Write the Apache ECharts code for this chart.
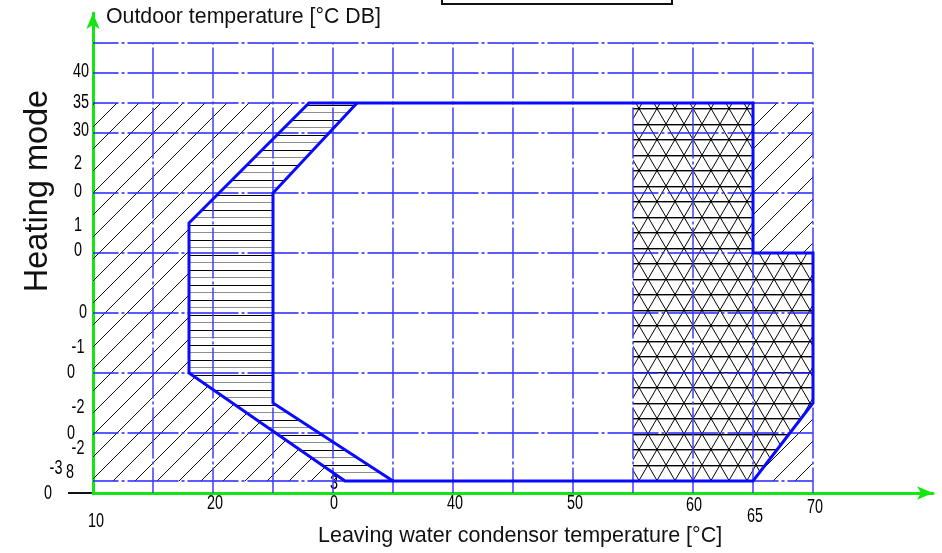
<!DOCTYPE html>
<html><head><meta charset="utf-8">
<script src="https://cdn.jsdelivr.net/npm/echarts@6.0.0/dist/echarts.min.js"></script>
<style>html,body{margin:0;padding:0;background:#fff}#c{width:942px;height:553px}</style>
</head><body><div id="c"></div>
<script>
// ---- data (°C) ----
const envelope = [[28,35],[65,35],[65,10],[70,10],[70,-15],[65,-28],[31,-28],[18,-10],[18,15]];
const innerBoundary = [[32,35],[25,20],[25,-15],[35,-28]];
const bandZone = [[28,35],[32,35],[25,20],[25,-15],[35,-28],[31,-28],[18,-10],[18,15]];
const highTempZone = [[55,35],[65,35],[65,10],[70,10],[70,-15],[65,-28],[55,-28]];
const outsideZone = [[10,35],[70,35],[70,-28],[10,-28]];
const gridX = [15,20,25,30,35,40,45,50,55,60,65,70];
const gridY = [45,40,35,30,20,10,0,-10,-20,-28];
const xTickValues = [10,20,30,40,50,60,65,70];
const xTickLabels = ['10','20','3\n0','40','50','60','65','70'];
const yTickValues = [40,35,30,20,10,0,-10,-20,-28,-30];
const yTickLabels = ['40','35','30','2\n0','1\n0','0','-1\n0','-2\n0','-2\n8','-3\n0'];

// ---- label layout (pixel offsets per line, style only) ----
const yLabelLayout = [
  [[-12,-2]],[[-12,-1]],[[-12,-3]],
  [[-15,-30],[-15,-2]],[[-15,-28],[-15,-3]],
  [[-10,-1]],
  [[-15,-26],[-22,-1]],[[-15,-26],[-22,0]],
  [[-15,-33],[-23,-9]],[[-37,-25],[-45,0]]
];
const xLabelLayout = [
  [[3,28]],[[2,10]],[[1,-10],[1,10]],[[2,10]],[[2,10]],[[1,12]],[[2,23]],[[2,14]]
];

// ---- hatch patterns ----
function diagTile(){
  const c=document.createElement('canvas'); c.width=22; c.height=22;
  const g=c.getContext('2d'); g.strokeStyle='#111'; g.lineWidth=1;
  [0,22,44].forEach(k=>{g.beginPath(); g.moveTo(k-24,24); g.lineTo(k+2,-2); g.stroke();});
  return c;
}
function horizTile(){
  const c=document.createElement('canvas'); c.width=4; c.height=15;
  const g=c.getContext('2d');
  g.fillStyle='#000'; g.fillRect(0,0,4,1);
  g.fillStyle='#8c8c8c'; g.fillRect(0,7,4,1);
  return c;
}
function triTile(){
  const W=18,H=31; const c=document.createElement('canvas'); c.width=W; c.height=H;
  const g=c.getContext('2d');
  g.fillStyle='#000'; g.fillRect(0,0,W,1); g.fillRect(0,15,W,1);
  g.fillStyle='#999'; g.fillRect(0,1,W,1); g.fillRect(0,16,W,1);
  g.strokeStyle='#000'; g.lineWidth=1;
  [-W,0,W].forEach(k=>{
    g.beginPath(); g.moveTo(k,0); g.lineTo(k+W,H); g.stroke();
    g.beginPath(); g.moveTo(k+W,0); g.lineTo(k,H); g.stroke();
  });
  return c;
}
const diagPat={image:diagTile(),repeat:'repeat'};
const horizPat={image:horizTile(),repeat:'repeat'};
const triPat={image:triTile(),repeat:'repeat'};

function polySeries(arr, style, z){
  return {type:'custom', coordinateSystem:'cartesian2d', silent:true, clip:false, z:z,
    data:[[10,-30]],
    renderItem:(p,api)=>({type:'polygon', shape:{points:arr.map(q=>api.coord(q))}, style:style})};
}
const dashH=[25.5,3,3,3,25.5,0];
const gridSeries = {type:'custom', coordinateSystem:'cartesian2d', silent:true, clip:false, z:6,
  data:[[10,-30]],
  renderItem:(p,api)=>{
    const ch=[];
    gridY.forEach(v=>{const a=api.coord([10,v]), b=api.coord([70,v]);
      ch.push({type:'line',shape:{x1:a[0],y1:a[1],x2:b[0],y2:b[1]},style:{stroke:'#2424ff',lineWidth:1.6,lineDash:dashH}});});
    gridX.forEach(v=>{const a=api.coord([v,-30]), b=api.coord([v,45]);
      ch.push({type:'line',shape:{x1:a[0],y1:a[1],x2:b[0],y2:b[1]},style:{stroke:'#3c3cff',lineWidth:1.5,lineDash:dashH}});});
    return {type:'group',children:ch};
  }};
const lineFont='20px "Liberation Sans",Arial,sans-serif';
function labelSeries(values, labels, layout, isY){
  return {type:'custom', coordinateSystem:'cartesian2d', silent:true, clip:false, z:4,
    data: values.map(v=> isY ? [10,v] : [v,-30]),
    renderItem:(p,api)=>{
      const i=p.dataIndex; const a=api.coord([api.value(0),api.value(1)]);
      const lines=labels[i].split('\n');
      return {type:'group',children:lines.map((t,j)=>({type:'text',
        x:a[0]+layout[i][j][0], y:a[1]+layout[i][j][1], scaleX:0.72,
        style:{text:t,x:0,y:0,align:'center',verticalAlign:'middle',font:lineFont,fill:'#000'}}))};
    }};
}

const chart=echarts.init(document.getElementById('c'));
chart.setOption({
  animation:false,
  grid:{left:93,top:13,right:9,bottom:60},
  xAxis:{type:'value',min:10,max:80,axisLine:{onZero:false,lineStyle:{color:'#14e614',width:3},symbol:['none','arrow'],symbolSize:[10,16]},
    axisTick:{show:false},axisLabel:{show:false},splitLine:{show:false}},
  yAxis:{type:'value',min:-30,max:50,axisLine:{show:true,onZero:false,lineStyle:{color:'#14e614',width:3},symbol:['none','arrow'],symbolSize:[10,16]},
    axisTick:{show:false},axisLabel:{show:false},splitLine:{show:false}},
  graphic:[
    {type:'text',left:106,top:7,style:{text:'Outdoor temperature [°C DB]',font:'21.3px "Liberation Sans",Arial,sans-serif',fill:'#111'}},
    {type:'text',left:318,top:525,style:{text:'Leaving water condensor temperature [°C]',font:'21.5px "Liberation Sans",Arial,sans-serif',fill:'#111'}},
    {type:'text',x:38,y:191,rotation:Math.PI/2,style:{text:'Heating mode',font:'32.5px "Liberation Sans",Arial,sans-serif',fill:'#111',align:'center',verticalAlign:'middle'}},
    {type:'rect',shape:{x:442,y:-30,width:230,height:34},style:{fill:'#fff',stroke:'#111',lineWidth:2}},
    {type:'line',shape:{x1:68,y1:493,x2:92,y2:493},style:{stroke:'#111',lineWidth:2}}
  ],
  series:[
    polySeries(outsideZone,{fill:diagPat},1),
    polySeries(envelope,{fill:'#fff'},2),
    polySeries(bandZone,{fill:horizPat},3),
    polySeries(highTempZone,{fill:triPat},3),
    labelSeries(yTickValues,yTickLabels,yLabelLayout,true),
    labelSeries(xTickValues,xTickLabels,xLabelLayout,false),
    gridSeries,
    polySeries(envelope,{fill:null,stroke:'#0a0aff',lineWidth:3,lineJoin:'miter'},8),
    {type:'custom',coordinateSystem:'cartesian2d',silent:true,clip:false,z:8,data:[[10,-30]],
      renderItem:(p,api)=>({type:'polyline',shape:{points:innerBoundary.map(q=>api.coord(q))},style:{fill:null,stroke:'#0a0aff',lineWidth:3}})}
  ]
});
</script></body></html>
